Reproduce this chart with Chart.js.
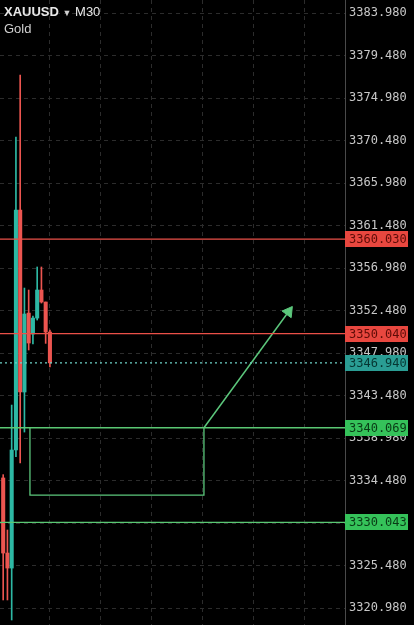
<!DOCTYPE html>
<html>
<head>
<meta charset="utf-8">
<script src="https://cdn.jsdelivr.net/npm/chart.js@4"></script>
<style>
  html, body { margin: 0; padding: 0; background: #000; }
  #wrap { position: relative; width: 414px; height: 625px; }
  #title { position: absolute; left: 4px; top: 4px; font-family: "Liberation Sans", Arial, sans-serif; font-size: 13px; line-height: 15px; color: #e8e8e8; pointer-events: none; }
  #title .sym { font-weight: bold; }
  #title .arrow { font-size: 9px; color: #cfcfcf; }
  #title .sub { color: #d0d0d0; }
</style>
</head>
<body>
<div id="wrap">
  <canvas id="myChart"></canvas>
  <div id="title"><span class="sym">XAUUSD</span> <span class="arrow">▼</span> M30<br><span class="sub">Gold</span></div>
</div>
<script>
// M30 candles, index = bar number
var bars   = [0, 1, 2, 3, 4, 5, 6, 7, 8, 9, 10, 11];
var opens  = [3334.75, 3326.80, 3325.21, 3337.71, 3363.12, 3343.85, 3352.21, 3349.99, 3351.68, 3354.65, 3353.38, 3350.20];
var highs  = [3335.10, 3329.24, 3342.47, 3370.85, 3377.42, 3354.86, 3354.65, 3351.90, 3357.09, 3357.09, 3353.38, 3350.41];
var lows   = [3321.83, 3321.83, 3319.71, 3337.00, 3336.33, 3339.61, 3348.30, 3348.93, 3351.47, 3353.27, 3349.00, 3346.50];
var closes = [3326.80, 3325.21, 3337.71, 3363.12, 3343.85, 3352.11, 3349.04, 3351.68, 3354.65, 3353.38, 3350.20, 3346.94];

// price levels drawn on the chart
var levelPrices = [3360.030, 3350.040, 3346.940, 3340.069, 3330.043];
var levelKinds  = ['red', 'red', 'last', 'green', 'green'];

// y axis tick labels
var yTicks = [3320.98, 3325.48, 3329.98, 3334.48, 3338.98, 3343.48, 3347.98, 3352.48,
              3356.98, 3361.48, 3365.98, 3370.48, 3374.98, 3379.48, 3383.98];
// vertical grid lines (bar units)
var gridX = [11, 23, 35, 47, 59, 71];

// drawn box + arrow (bar units / price)
var boxX = [6.3, 47.25];
var boxY = [3340.069, 3332.94];
var arrowX = [47.25, 67.16];
var arrowY = [3340.069, 3352.35];

var xMin = -0.75, xMax = 80.45;
var yMin = 3319.18, yMax = 3385.36;

var upColor = '#2db8a4';
var downColor = '#ec5550';
var styles = {
    red:   { line: 'rgb(235,80,72)',  box: '#e8473f', text: '#5e0c07', dash: [] },
    last:  { line: 'rgb(110,210,200)', box: '#2a9d94', text: '#063632', dash: [2, 3] },
    green: { line: 'rgb(90,200,115)', box: '#35c25a', text: '#0a3a16', dash: [] }
};
var drawColor = '#5cc77c';
var monoFont = '"DejaVu Sans Mono", "Liberation Mono", monospace';

function candleColor(c) {
    var i = c.dataIndex;
    return closes[i] >= opens[i] ? upColor : downColor;
}

var datasets = [];

levelPrices.forEach(function (p, i) {
    var s = styles[levelKinds[i]];
    datasets.push({
        type: 'line',
        data: [{ x: xMin, y: p }, { x: xMax, y: p }],
        borderColor: s.line,
        borderWidth: 1.3,
        borderDash: s.dash,
        pointRadius: 0,
        order: 0
    });
});

datasets.push({
    type: 'line',
    data: [
        { x: boxX[0], y: boxY[0] }, { x: boxX[0], y: boxY[1] },
        { x: boxX[1], y: boxY[1] }, { x: boxX[1], y: boxY[0] }
    ],
    borderColor: drawColor,
    borderWidth: 1.3,
    pointRadius: 0,
    order: 0
});

datasets.push({
    type: 'line',
    data: [{ x: arrowX[0], y: arrowY[0] }, { x: arrowX[1], y: arrowY[1] }],
    borderColor: drawColor,
    borderWidth: 1.5,
    pointRadius: [0, 6.5],
    pointStyle: 'triangle',
    pointRotation: 36,
    pointBackgroundColor: drawColor,
    pointBorderColor: drawColor,
    pointBorderWidth: 1,
    order: 0
});

datasets.push({
    type: 'bar',
    data: bars.map(function (b, i) { return { x: b, y: [opens[i], closes[i]] }; }),
    backgroundColor: candleColor,
    borderWidth: 0,
    barThickness: 3.4,
    grouped: false,
    order: 1
});

datasets.push({
    type: 'bar',
    data: bars.map(function (b, i) { return { x: b, y: [lows[i], highs[i]] }; }),
    backgroundColor: candleColor,
    borderWidth: 0,
    barThickness: 1,
    grouped: false,
    order: 2
});

var priceTags = {
    id: 'priceTags',
    afterDraw: function (chart) {
        var c = chart.ctx;
        var ys = chart.scales.y;
        var left = chart.chartArea.right;
        c.save();
        c.font = '12px ' + monoFont;
        c.textBaseline = 'middle';
        c.textAlign = 'left';
        levelPrices.forEach(function (p, i) {
            var s = styles[levelKinds[i]];
            var y = Math.round(ys.getPixelForValue(p));
            c.fillStyle = s.box;
            c.fillRect(left, y - 8, 63, 16);
            c.fillStyle = s.text;
            c.fillText(p.toFixed(3), left + 4, y + 1);
        });
        c.restore();
    }
};

var ctx = document.getElementById("myChart");
Chart.defaults.font.family = monoFont;

var chart = new Chart(ctx, {
    type: 'bar',
    data: { datasets: datasets },
    options: {
        responsive: true,
        maintainAspectRatio: false,
        animation: false,
        layout: { padding: 0, autoPadding: false },
        plugins: {
            legend: { display: false },
            tooltip: { enabled: false },
            title: { display: false }
        },
        scales: {
            x: {
                type: 'linear',
                min: xMin,
                max: xMax,
                offset: false,
                afterBuildTicks: function (scale) {
                    scale.ticks = gridX.map(function (v) { return { value: v }; });
                },
                afterFit: function (scale) {
                    scale.height = 0;
                    scale.paddingLeft = 0;
                    scale.paddingRight = 0;
                },
                ticks: { display: false },
                grid: { color: '#2c2c2c', drawTicks: false, offset: false },
                border: { display: false, dash: [4, 4] }
            },
            y: {
                position: 'right',
                min: yMin,
                max: yMax,
                afterBuildTicks: function (scale) {
                    scale.ticks = yTicks.map(function (v) { return { value: v }; });
                },
                afterFit: function (scale) {
                    scale.width = 69;
                    scale.paddingTop = 0;
                    scale.paddingBottom = 0;
                },
                ticks: {
                    color: '#c8c8c8',
                    padding: 4,
                    autoSkip: false,
                    font: { family: monoFont, size: 12 },
                    callback: function (v) { return Number(v).toFixed(3); }
                },
                grid: { color: '#2c2c2c', drawTicks: false },
                border: { display: true, color: '#4a4a4a', width: 1, dash: [4, 4] }
            }
        }
    },
    plugins: [priceTags]
});
</script>
</body>
</html>
